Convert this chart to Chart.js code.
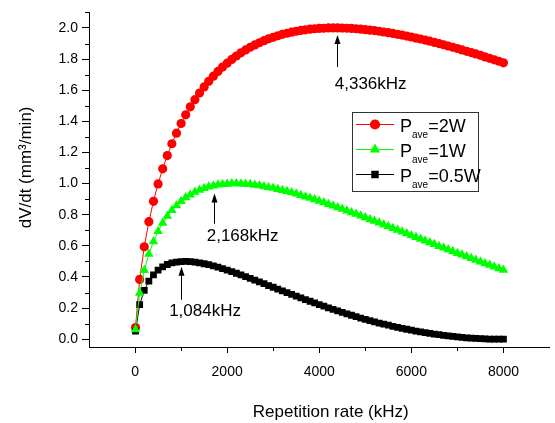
<!DOCTYPE html>
<html><head><meta charset="utf-8">
<script src="https://cdn.jsdelivr.net/npm/chart.js@4.4.1/dist/chart.umd.min.js"></script>
<style>html,body{margin:0;padding:0;background:#fff;}canvas{display:block;}</style>
</head><body>
<canvas id="c" width="555" height="423"></canvas>
<script>
// ---- data ----
const repRate = [10,100,200,300,400,500,600,700,800,900,1000,1100,1200,1300,1400,1500,1600,1700,1800,1900,2000,
2100,2200,2300,2400,2500,2600,2700,2800,2900,3000,3100,3200,3300,3400,3500,3600,3700,3800,3900,4000,
4100,4200,4300,4400,4500,4600,4700,4800,4900,5000,5100,5200,5300,5400,5500,5600,5700,5800,5900,6000,
6100,6200,6300,6400,6500,6600,6700,6800,6900,7000,7100,7200,7300,7400,7500,7600,7700,7800,7900,8000];

const dvdt2W = [0.075,0.384,0.594,0.755,0.886,0.998,1.095,1.180,1.256,1.324,1.386,
1.442,1.493,1.539,1.582,1.621,1.657,1.690,1.721,1.749,1.774,
1.798,1.820,1.840,1.859,1.876,1.891,1.905,1.918,1.930,1.940,
1.950,1.959,1.966,1.973,1.979,1.984,1.988,1.992,1.995,1.997,
1.998,2.000,2.000,2.000,1.999,1.998,1.997,1.995,1.992,1.989,
1.986,1.983,1.979,1.974,1.970,1.965,1.959,1.954,1.948,1.942,
1.935,1.929,1.922,1.915,1.907,1.900,1.892,1.884,1.876,1.868,
1.859,1.850,1.842,1.833,1.824,1.814,1.805,1.795,1.786,1.776];

const dvdt1W = [0.063,0.297,0.443,0.547,0.628,0.693,0.746,0.791,0.829,0.860,0.887,
0.910,0.929,0.946,0.959,0.970,0.979,0.986,0.992,0.996,0.998,
1.000,1.000,0.999,0.997,0.995,0.991,0.987,0.982,0.977,0.971,
0.964,0.957,0.950,0.942,0.934,0.925,0.916,0.907,0.898,0.888,
0.878,0.868,0.858,0.847,0.837,0.826,0.815,0.804,0.793,0.782,
0.770,0.759,0.748,0.736,0.725,0.713,0.702,0.690,0.679,0.667,
0.656,0.644,0.633,0.621,0.610,0.598,0.587,0.576,0.564,0.553,
0.542,0.531,0.520,0.509,0.498,0.487,0.477,0.466,0.455,0.445];

const dvdt05W = [0.052,0.222,0.314,0.373,0.414,0.444,0.465,0.480,0.490,0.496,0.499,
0.500,0.499,0.496,0.491,0.485,0.479,0.471,0.463,0.454,0.444,
0.434,0.424,0.413,0.402,0.391,0.380,0.368,0.357,0.345,0.334,
0.322,0.311,0.299,0.288,0.277,0.266,0.255,0.244,0.233,0.222,
0.212,0.202,0.192,0.182,0.173,0.163,0.154,0.145,0.136,0.128,
0.120,0.112,0.104,0.097,0.090,0.083,0.076,0.070,0.064,0.058,
0.052,0.047,0.042,0.037,0.033,0.029,0.025,0.021,0.018,0.015,
0.012,0.009,0.007,0.005,0.004,0.002,0.001,0.001,0.000,0.000];

const seriesPower = ['2W','1W','0.5W'];
const xTickValues = [0,2000,4000,6000,8000];
const xMinorTicks = [1000,3000,5000,7000];
const yTickValues = [0,0.2,0.4,0.6,0.8,1.0,1.2,1.4,1.6,1.8,2.0];
const yMinorTicks = [0.1,0.3,0.5,0.7,0.9,1.1,1.3,1.5,1.7,1.9,2.1];
const xTitle = 'Repetition rate (kHz)';
const yTitle = 'dV/dt (mm\u00B3/min)';

// peak annotations
const peakLabels = ['4,336kHz','2,168kHz','1,084kHz'];
const arrowX = [4380,1710,1005];
const arrowTipY = [1.955,0.937,0.466];
const arrowTailY = [1.749,0.742,0.254];
const labelX = [5117,2336,1520];
const labelBaseY = [1.611,0.632,0.148];

// ---- drawing ----
const FONT = '"Liberation Sans", Arial, Helvetica, sans-serif';
const COLORS = ['#ff0000','#00ff00','#000000'];
const STYLES = ['circle','triangle','rect'];
const RADII = [4.6,5.5,4.8];

function marker(ctx, style, r, x, y, color){
  ctx.save();
  ctx.fillStyle = color;
  ctx.beginPath();
  if (style === 'circle') { ctx.arc(x, y, r, 0, Math.PI*2); }
  else if (style === 'triangle') {
    let a = 0;
    ctx.moveTo(x + Math.sin(a)*r, y - Math.cos(a)*r);
    a += 2*Math.PI/3; ctx.lineTo(x + Math.sin(a)*r, y - Math.cos(a)*r);
    a += 2*Math.PI/3; ctx.lineTo(x + Math.sin(a)*r, y - Math.cos(a)*r);
    ctx.closePath();
  } else { const s = Math.SQRT1_2*r; ctx.rect(x-s, y-s, 2*s, 2*s); }
  ctx.fill();
  ctx.restore();
}

const overlay = {
  id: 'overlay',
  afterDraw(chart){
    const ctx = chart.ctx;
    const xs = chart.scales.x, ys = chart.scales.y;
    const area = chart.chartArea;
    ctx.save();
    ctx.strokeStyle = '#000'; ctx.lineWidth = 1;
    // minor ticks
    ctx.beginPath();
    xMinorTicks.forEach(v => { const px = Math.round(xs.getPixelForValue(v)) + 0.5;
      ctx.moveTo(px, area.bottom); ctx.lineTo(px, area.bottom + 4); });
    yMinorTicks.forEach(v => { const py = Math.round(ys.getPixelForValue(v)) + 0.5;
      ctx.moveTo(area.left, py); ctx.lineTo(area.left - 4, py); });
    ctx.stroke();

    // arrows + labels
    ctx.fillStyle = '#000';
    ctx.font = '17px ' + FONT;
    ctx.textAlign = 'center'; ctx.textBaseline = 'alphabetic';
    peakLabels.forEach((t, i) => {
      const px = Math.round(xs.getPixelForValue(arrowX[i])) + 0.5;
      const tip = ys.getPixelForValue(arrowTipY[i]);
      const tail = ys.getPixelForValue(arrowTailY[i]);
      ctx.beginPath(); ctx.moveTo(px, tail); ctx.lineTo(px, tip + 6); ctx.stroke();
      ctx.beginPath(); ctx.moveTo(px, tip); ctx.lineTo(px - 3, tip + 9); ctx.lineTo(px + 3, tip + 9); ctx.closePath(); ctx.fill();
      ctx.fillText(t, xs.getPixelForValue(labelX[i]), ys.getPixelForValue(labelBaseY[i]));
    });

    // axis titles
    ctx.font = '17px ' + FONT;
    ctx.textAlign = 'center';
    ctx.fillText(xTitle, xs.getPixelForValue(4250), 417);
    ctx.save();
    ctx.translate(31, ys.getPixelForValue(1.104));
    ctx.rotate(-Math.PI/2);
    ctx.fillText(yTitle, 0, 0);
    ctx.restore();

    // legend
    const bx = 352.5, by = 112.5, bw = 126, bh = 79;
    ctx.fillStyle = '#fff';
    ctx.fillRect(bx, by, bw, bh);
    ctx.strokeStyle = '#333'; ctx.lineWidth = 1;
    ctx.strokeRect(bx, by, bw, bh);
    const rowsY = [124, 149, 174];
    seriesPower.forEach((p, i) => {
      const y = rowsY[i];
      ctx.strokeStyle = COLORS[i]; ctx.lineWidth = 1;
      ctx.beginPath(); ctx.moveTo(356, y + 0.5); ctx.lineTo(394, y + 0.5); ctx.stroke();
      marker(ctx, STYLES[i], RADII[i] + 0.5, 375, y + 0.5, COLORS[i]);
      ctx.fillStyle = '#000';
      ctx.textAlign = 'left';
      ctx.font = '18px ' + FONT;
      let x = 400;
      ctx.fillText('P', x, y + 8);
      x += ctx.measureText('P').width;
      ctx.font = '10px ' + FONT;
      ctx.fillText('ave', x, y + 14);
      x += ctx.measureText('ave').width;
      ctx.font = '18px ' + FONT;
      ctx.fillText('=' + p, x, y + 8);
    });
    ctx.restore();
  }
};

const toPts = ys => repRate.map((x, i) => ({x: x, y: ys[i]}));
const seriesValues = [dvdt2W, dvdt1W, dvdt05W];
const drawOrder = [3, 1, 2];

new Chart(document.getElementById('c').getContext('2d'), {
  type: 'scatter',
  data: {
    datasets: seriesValues.map((vals, i) => ({
      label: 'P_ave=' + seriesPower[i],
      data: toPts(vals),
      showLine: true,
      borderColor: COLORS[i],
      borderWidth: 1,
      pointStyle: STYLES[i],
      pointRadius: RADII[i],
      pointBackgroundColor: COLORS[i],
      pointBorderColor: COLORS[i],
      pointBorderWidth: 0,
      order: drawOrder[i]
    }))
  },
  options: {
    responsive: false,
    animation: false,
    devicePixelRatio: 1,
    layout: {padding: {top: 10, right: 2, left: 0, bottom: 0}},
    plugins: {legend: {display: false}, tooltip: {enabled: false}},
    elements: {line: {tension: 0}},
    scales: {
      x: {
        type: 'linear', min: -1000, max: 9000,
        afterBuildTicks: s => { s.ticks = xTickValues.map(v => ({value: v})); },
        afterFit: s => { s.height = 76; },
        grid: {drawOnChartArea: false, tickLength: 6, tickColor: '#000', color: '#000'},
        border: {color: '#000', width: 1},
        ticks: {color: '#000', font: {family: FONT, size: 14}, padding: 11, maxRotation: 0,
                callback: v => String(v)}
      },
      y: {
        type: 'linear', min: -0.05, max: 2.1,
        afterBuildTicks: s => { s.ticks = yTickValues.map(v => ({value: v})); },
        afterFit: s => { s.width = 89; },
        grid: {drawOnChartArea: false, tickLength: 7, tickColor: '#000', color: '#000'},
        border: {color: '#000', width: 1},
        ticks: {color: '#000', font: {family: FONT, size: 14}, padding: 4,
                callback: v => Number(v).toFixed(1)}
      }
    }
  },
  plugins: [overlay]
});
</script>
</body></html>
